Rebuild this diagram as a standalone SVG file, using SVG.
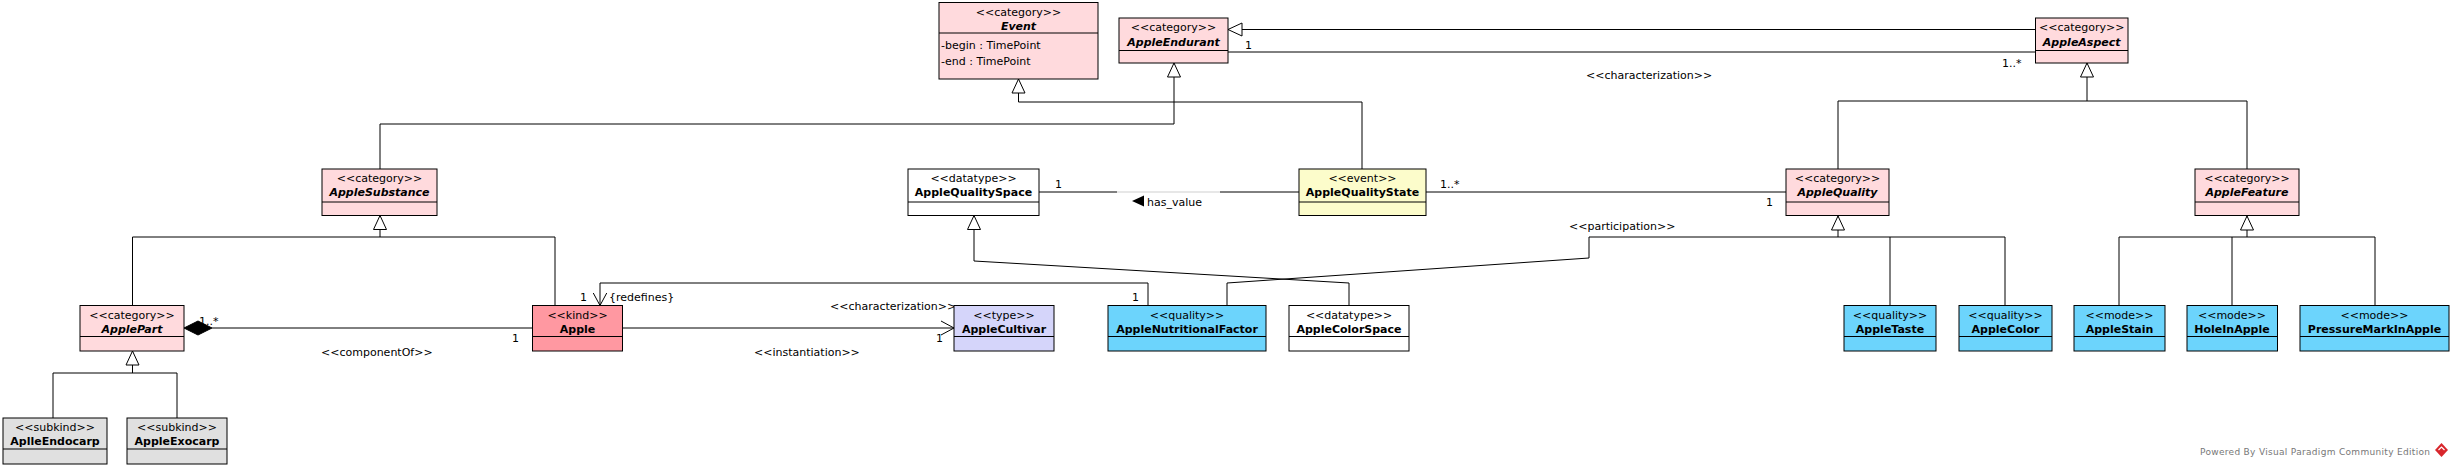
<svg xmlns="http://www.w3.org/2000/svg" width="2454" height="468" viewBox="0 0 2454 468">
<style>
text{font-family:'DejaVu Sans','Liberation Sans',sans-serif;font-size:11px;fill:#000}
.st{text-anchor:middle}
.nm{text-anchor:middle;font-weight:bold}
.ab{font-style:italic}
.node rect{stroke:#000;stroke-width:1}
.sep{stroke:#000;stroke-width:1}
.cat{fill:#FFDADD}
.kind{fill:#FF98A1}
.type{fill:#D5D5FA}
.qual{fill:#6CD4FC}
.evt{fill:#FCFCCB}
.dt{fill:#FFFFFF}
.sub{fill:#E0E0E0}
.ln{fill:none;stroke:#000;stroke-width:1}
.gen{marker-start:url(#gen)}
.opn{marker-end:url(#open)}
.pb{font-size:9px;fill:#777}
</style>
<defs>
<marker id="gen" viewBox="0 0 16 16" refX="15" refY="8" markerWidth="16" markerHeight="16" markerUnits="userSpaceOnUse" orient="auto-start-reverse"><path d="M1,1.5 L15,8 L1,14.5 Z" fill="#fff" stroke="#000" stroke-width="1"/></marker>
<marker id="open" viewBox="0 0 14 16" refX="13" refY="8" markerWidth="14" markerHeight="16" markerUnits="userSpaceOnUse" orient="auto"><path d="M0,1 L13,8 L0,15" fill="none" stroke="#000" stroke-width="1"/></marker>
</defs>
<rect x="0" y="0" width="2454" height="468" fill="#fff"/>

<g id="connectors">
<path class="ln gen" d="M1228,29.5 H2035.5"/>
<path class="ln" d="M1228,52 H2035.5"/>
<path class="ln gen" d="M1018.5,79 V102 H1362 V169"/>
<path class="ln gen" d="M1174,63 V124 H380 V169"/>
<path class="ln gen" d="M2087,63 V101"/>
<path class="ln" d="M1838,169 V101 H2247 V169"/>
<path class="ln" d="M1039,192 H1117"/>
<path class="ln" style="stroke:#cfcfcf" d="M1117,192 H1220"/>
<path class="ln" d="M1220,192 H1299"/>
<path class="ln" d="M1426,192 H1786"/>
<path class="ln gen" d="M380,215.5 V237"/>
<path class="ln" d="M132.5,305.5 V237 H555 V305.5"/>
<path class="ln gen" d="M132.5,351 V373"/>
<path class="ln" d="M53,418 V373 H177 V418"/>
<polygon points="184,328 198,321 212,328 198,335" fill="#000" stroke="#000"/>
<path class="ln" d="M212,328 H532.5"/>
<path class="ln opn" d="M622.5,328 H954"/>
<path class="ln opn" d="M1148,305.5 V283 H600 V305.5"/>
<path class="ln gen" d="M974,215.5 V261 L1349,283 V305.5"/>
<path class="ln gen" d="M1838,216 V237"/>
<path class="ln" d="M1227,305.5 V283 L1589,258 V237 H2005 V305.5"/>
<path class="ln" d="M1890,237 V305.5"/>
<path class="ln gen" d="M2247,216 V237"/>
<path class="ln" d="M2119,305.5 V237 H2375 V305.5"/>
<path class="ln" d="M2232,237 V305.5"/>
<polygon points="1132,201 1144,195.5 1144,206.5" fill="#000"/>
<text x="1147" y="206">has_value</text>
<text x="1245" y="49">1</text>
<text x="2002" y="67">1..*</text>
<text x="1586" y="79">&lt;&lt;characterization&gt;&gt;</text>
<text x="1055" y="188">1</text>
<text x="1440" y="188">1..*</text>
<text x="1766" y="206">1</text>
<text x="1569" y="230">&lt;&lt;participation&gt;&gt;</text>
<text x="199" y="325">1..*</text>
<text x="512" y="342">1</text>
<text x="321" y="356">&lt;&lt;componentOf&gt;&gt;</text>
<text x="580" y="300.5">1</text>
<text x="609" y="300.5">{redefines}</text>
<text x="1132" y="300.5">1</text>
<text x="830" y="310">&lt;&lt;characterization&gt;&gt;</text>
<text x="936" y="342">1</text>
<text x="754" y="356">&lt;&lt;instantiation&gt;&gt;</text>
</g>

<g id="Event" class="node">
<rect class="cat" x="939" y="2.5" width="159" height="76.5"/>
<line class="sep" x1="939" y1="33" x2="1098" y2="33"/>
<text class="st" x="1018.5" y="15.5">&lt;&lt;category&gt;&gt;</text>
<text class="nm ab" x="1018.5" y="29.5">Event</text>
<text x="941" y="48.5">-begin : TimePoint</text>
<text x="941" y="65">-end : TimePoint</text>
</g>

<g id="AppleEndurant" class="node">
<rect class="cat" x="1119" y="18" width="109" height="45"/>
<line class="sep" x1="1119" y1="50.5" x2="1228" y2="50.5"/>
<text class="st" x="1173.5" y="31">&lt;&lt;category&gt;&gt;</text>
<text class="nm ab" x="1173.5" y="45.5">AppleEndurant</text>
</g>

<g id="AppleAspect" class="node">
<rect class="cat" x="2035.5" y="18" width="92.5" height="45"/>
<line class="sep" x1="2035.5" y1="50.5" x2="2128" y2="50.5"/>
<text class="st" x="2081.7" y="31">&lt;&lt;category&gt;&gt;</text>
<text class="nm ab" x="2081.7" y="45.5">AppleAspect</text>
</g>

<g id="AppleSubstance" class="node">
<rect class="cat" x="322" y="169" width="115" height="46.5"/>
<line class="sep" x1="322" y1="202" x2="437" y2="202"/>
<text class="st" x="379.5" y="182">&lt;&lt;category&gt;&gt;</text>
<text class="nm ab" x="379.5" y="196">AppleSubstance</text>
</g>

<g id="AppleQualitySpace" class="node">
<rect class="dt" x="908" y="169" width="131" height="46.5"/>
<line class="sep" x1="908" y1="202" x2="1039" y2="202"/>
<text class="st" x="973.5" y="182">&lt;&lt;datatype&gt;&gt;</text>
<text class="nm" x="973.5" y="196">AppleQualitySpace</text>
</g>

<g id="AppleQualityState" class="node">
<rect class="evt" x="1299" y="169" width="127" height="46.5"/>
<line class="sep" x1="1299" y1="202" x2="1426" y2="202"/>
<text class="st" x="1362.5" y="182">&lt;&lt;event&gt;&gt;</text>
<text class="nm" x="1362.5" y="196">AppleQualityState</text>
</g>

<g id="AppleQuality" class="node">
<rect class="cat" x="1786" y="169" width="103" height="46.5"/>
<line class="sep" x1="1786" y1="202" x2="1889" y2="202"/>
<text class="st" x="1837.5" y="182">&lt;&lt;category&gt;&gt;</text>
<text class="nm ab" x="1837.5" y="196">AppleQuality</text>
</g>

<g id="AppleFeature" class="node">
<rect class="cat" x="2195" y="169" width="104" height="46.5"/>
<line class="sep" x1="2195" y1="202" x2="2299" y2="202"/>
<text class="st" x="2247" y="182">&lt;&lt;category&gt;&gt;</text>
<text class="nm ab" x="2247" y="196">AppleFeature</text>
</g>

<g id="ApplePart" class="node">
<rect class="cat" x="80" y="305.5" width="104" height="45.5"/>
<line class="sep" x1="80" y1="336.5" x2="184" y2="336.5"/>
<text class="st" x="132" y="318.5">&lt;&lt;category&gt;&gt;</text>
<text class="nm ab" x="132" y="332.5">ApplePart</text>
</g>

<g id="Apple" class="node">
<rect class="kind" x="532.5" y="305.5" width="90" height="45.5"/>
<line class="sep" x1="532.5" y1="336.5" x2="622.5" y2="336.5"/>
<text class="st" x="577.5" y="318.5">&lt;&lt;kind&gt;&gt;</text>
<text class="nm" x="577.5" y="332.5">Apple</text>
</g>

<g id="AppleCultivar" class="node">
<rect class="type" x="954" y="305.5" width="100" height="45.5"/>
<line class="sep" x1="954" y1="336.5" x2="1054" y2="336.5"/>
<text class="st" x="1004" y="318.5">&lt;&lt;type&gt;&gt;</text>
<text class="nm" x="1004" y="332.5">AppleCultivar</text>
</g>

<g id="AppleNutritionalFactor" class="node">
<rect class="qual" x="1108" y="305.5" width="158" height="45.5"/>
<line class="sep" x1="1108" y1="336.5" x2="1266" y2="336.5"/>
<text class="st" x="1187" y="318.5">&lt;&lt;quality&gt;&gt;</text>
<text class="nm" x="1187" y="332.5">AppleNutritionalFactor</text>
</g>

<g id="AppleColorSpace" class="node">
<rect class="dt" x="1289" y="305.5" width="120" height="45.5"/>
<line class="sep" x1="1289" y1="336.5" x2="1409" y2="336.5"/>
<text class="st" x="1349" y="318.5">&lt;&lt;datatype&gt;&gt;</text>
<text class="nm" x="1349" y="332.5">AppleColorSpace</text>
</g>

<g id="AppleTaste" class="node">
<rect class="qual" x="1844" y="305.5" width="92" height="45.5"/>
<line class="sep" x1="1844" y1="336.5" x2="1936" y2="336.5"/>
<text class="st" x="1890" y="318.5">&lt;&lt;quality&gt;&gt;</text>
<text class="nm" x="1890" y="332.5">AppleTaste</text>
</g>

<g id="AppleColor" class="node">
<rect class="qual" x="1959" y="305.5" width="93" height="45.5"/>
<line class="sep" x1="1959" y1="336.5" x2="2052" y2="336.5"/>
<text class="st" x="2005.5" y="318.5">&lt;&lt;quality&gt;&gt;</text>
<text class="nm" x="2005.5" y="332.5">AppleColor</text>
</g>

<g id="AppleStain" class="node">
<rect class="qual" x="2074" y="305.5" width="91" height="45.5"/>
<line class="sep" x1="2074" y1="336.5" x2="2165" y2="336.5"/>
<text class="st" x="2119.5" y="318.5">&lt;&lt;mode&gt;&gt;</text>
<text class="nm" x="2119.5" y="332.5">AppleStain</text>
</g>

<g id="HoleInApple" class="node">
<rect class="qual" x="2187" y="305.5" width="90.5" height="45.5"/>
<line class="sep" x1="2187" y1="336.5" x2="2277.5" y2="336.5"/>
<text class="st" x="2232" y="318.5">&lt;&lt;mode&gt;&gt;</text>
<text class="nm" x="2232" y="332.5">HoleInApple</text>
</g>

<g id="PressureMarkInApple" class="node">
<rect class="qual" x="2300" y="305.5" width="149" height="45.5"/>
<line class="sep" x1="2300" y1="336.5" x2="2449" y2="336.5"/>
<text class="st" x="2374.5" y="318.5">&lt;&lt;mode&gt;&gt;</text>
<text class="nm" x="2374.5" y="332.5">PressureMarkInApple</text>
</g>

<g id="AplleEndocarp" class="node">
<rect class="sub" x="3" y="418" width="104" height="46"/>
<line class="sep" x1="3" y1="449" x2="107" y2="449"/>
<text class="st" x="55" y="431">&lt;&lt;subkind&gt;&gt;</text>
<text class="nm" x="55" y="445">AplleEndocarp</text>
</g>

<g id="AppleExocarp" class="node">
<rect class="sub" x="127" y="418" width="100" height="46"/>
<line class="sep" x1="127" y1="449" x2="227" y2="449"/>
<text class="st" x="177" y="431">&lt;&lt;subkind&gt;&gt;</text>
<text class="nm" x="177" y="445">AppleExocarp</text>
</g>

<g id="watermark">
<text class="pb" x="2200" y="455" textLength="230" lengthAdjust="spacing">Powered By Visual Paradigm Community Edition</text>
<polygon points="2441.5,443 2448,450 2441.5,457 2435,450" fill="#D8262C"/>
<path d="M2438.5,450 L2441.5,447 L2444.5,450" fill="none" stroke="#fff" stroke-width="1.2"/>
</g>
</svg>
